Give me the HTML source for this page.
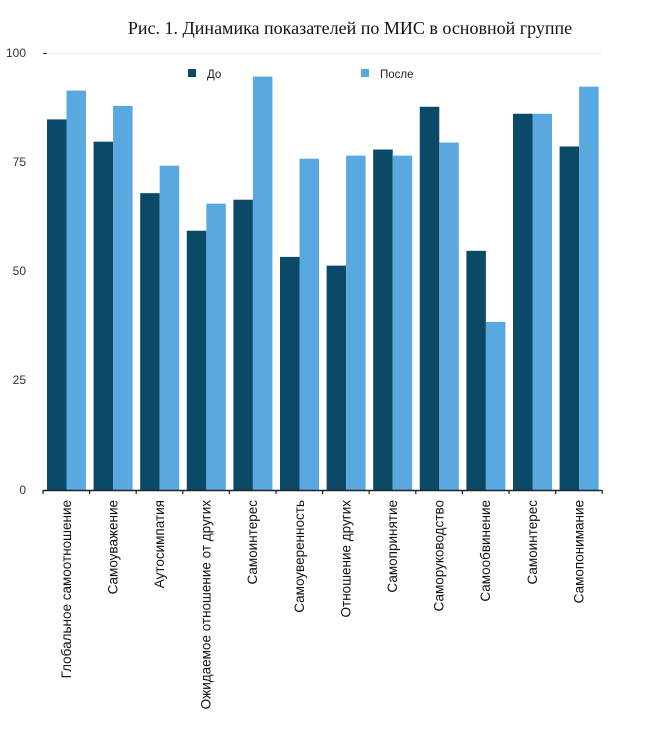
<!DOCTYPE html>
<html><head><meta charset="utf-8"><style>
html,body{margin:0;padding:0;background:#fff;}
svg{display:block;}
</style></head><body>
<svg width="650" height="744" xmlns="http://www.w3.org/2000/svg">
<text x="350" y="34" text-anchor="middle" font-family="Liberation Serif, serif" font-size="18" fill="#111">Рис. 1. Динамика показателей по МИС в основной группе</text>
<line x1="43" y1="53.5" x2="602" y2="53.5" stroke="#eee" stroke-width="1"/>
<line x1="43" y1="53.5" x2="47" y2="53.5" stroke="#333" stroke-width="1"/>
<g font-family="Liberation Sans, sans-serif" font-size="12" fill="#333" text-anchor="end">
<text x="26" y="57">100</text><text x="26" y="166">75</text><text x="26" y="275">50</text><text x="26" y="384">25</text><text x="26" y="494">0</text>
</g>
<rect x="188" y="69" width="8" height="8" fill="#0a4a66"/>
<text x="207" y="78" font-family="Liberation Sans, sans-serif" font-size="11.5" fill="#222">До</text>
<rect x="361" y="69" width="8" height="8" fill="#5aa8e0"/>
<text x="380" y="78" font-family="Liberation Sans, sans-serif" font-size="11.5" fill="#222">После</text>
<g id="bars"></g>
<line x1="43" y1="490.5" x2="602" y2="490.5" stroke="#222" stroke-width="1.5"/>
<g id="ticks" stroke="#222" stroke-width="1.2"></g>
<g id="labels" font-family="Liberation Sans, sans-serif" font-size="13.5" fill="#111"></g>
</svg>
<script>
var d=[[84.9,91.5],[79.8,88],[68,74.3],[59.4,65.6],[66.5,94.7],[53.4,75.9],[51.4,76.6],[78,76.6],[87.8,79.6],[54.8,38.5],[86.2,86.2],[78.7,92.4]];
var n=["Глобальное самоотношение","Самоуважение","Аутосимпатия","Ожидаемое отношение от других","Самоинтерес","Самоуверенность","Отношение других","Самопринятие","Саморуководство","Самообвинение","Самоинтерес","Самопонимание"];
var ns="http://www.w3.org/2000/svg",b=document.getElementById("bars"),t=document.getElementById("ticks"),l=document.getElementById("labels");
var s=4.365,w=46.6;
function el(p,tag,a,txt){var e=document.createElementNS(ns,tag);for(var k in a)e.setAttribute(k,a[k]);if(txt)e.textContent=txt;p.appendChild(e);}
for(var i=0;i<12;i++){var x0=43+i*w;
el(b,"rect",{x:x0+4,y:490-d[i][0]*s,width:19.5,height:d[i][0]*s,fill:"#0a4a66"});
el(b,"rect",{x:x0+23.5,y:490-d[i][1]*s,width:19.5,height:d[i][1]*s,fill:"#5aa8e0"});
var cx=x0+w/2+4.5;
el(l,"text",{x:0,y:0,transform:"translate("+cx+",500) rotate(-90)","text-anchor":"end"},n[i]);}
for(var i=0;i<=12;i++){var x=43+i*w;el(t,"line",{x1:x,y1:490,x2:x,y2:494});}
</script>
</body></html>
